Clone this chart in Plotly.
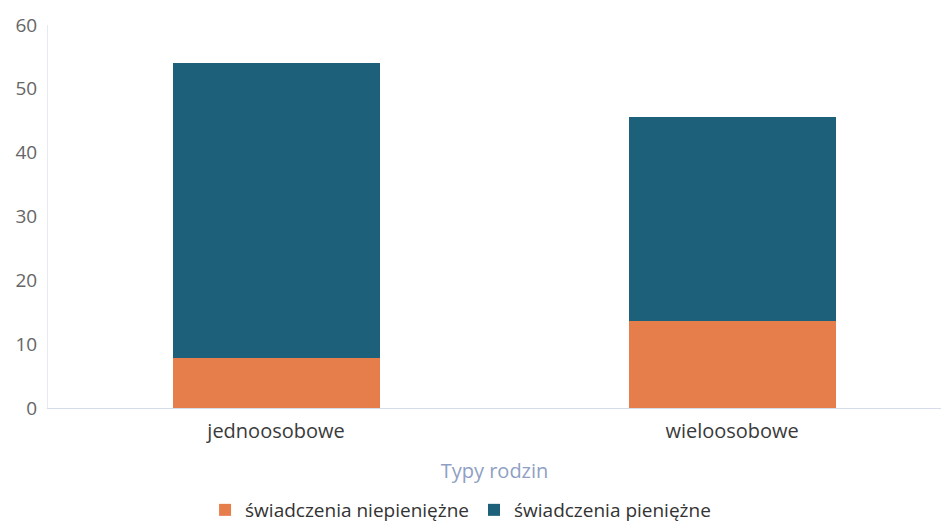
import plotly.graph_objects as go

categories = ["jednoosobowe", "wieloosobowe"]
niepieniezne = [7.8, 13.6]
pieniezne = [46.3, 32.0]
series_names = ["świadczenia niepieniężne", "świadczenia pieniężne"]
y_ticks = [0, 10, 20, 30, 40, 50, 60]

fig = go.Figure()
fig.add_trace(go.Bar(x=categories, y=niepieniezne, name=series_names[0],
                     marker=dict(color="#E67E4B", line=dict(width=0)), width=0.454))
fig.add_trace(go.Bar(x=categories, y=pieniezne, name=series_names[1],
                     marker=dict(color="#1C6179", line=dict(width=0)), width=0.454))

fig.update_layout(
    barmode="stack",
    width=941, height=529,
    margin=dict(l=48, r=0, t=25, b=121, autoexpand=False),
    paper_bgcolor="white", plot_bgcolor="white",
    font=dict(family="Open Sans", color="#555555"),
    showlegend=True,
    legend=dict(orientation="h", x=0.462, xanchor="center", yref="container", y=0.0,
                yanchor="bottom", font=dict(size=19, color="#333333"),
                traceorder="normal", itemwidth=30),
    xaxis=dict(range=[-0.5, 1.458], showgrid=False, showline=True, linecolor="#D5DCEB",
               linewidth=1, ticks="", tickfont=dict(size=20, color="#3A3A3A"), automargin=False,
               ticklabelstandoff=5,
               title=dict(text="Typy rodzin", font=dict(size=20, color="#8FA0C4"), standoff=20)),
    yaxis=dict(range=[0, 60], tickvals=y_ticks, showgrid=False, showline=True, automargin=False,
               linecolor="#E6E9F0", linewidth=1, ticks="", zeroline=False, ticklabelstandoff=6,
               tickfont=dict(size=19, color="#666666")),
)

fig.write_html("out.html", config={"displayModeBar": False},
               post_script="document.body.style.margin='0';")
